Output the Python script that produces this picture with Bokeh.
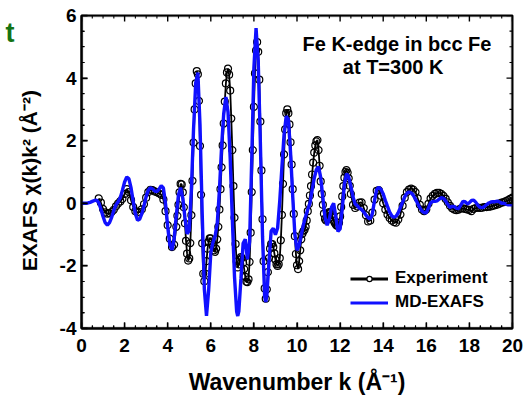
from bokeh.plotting import figure
from bokeh.models import (LinearAxis, SingleIntervalTicker, FixedTicker, Range1d,
                          Label, Legend, LegendItem, ColumnDataSource,
                          BoxAnnotation, Arrow)
from bokeh.embed import file_html
from bokeh.resources import INLINE

# ---------------- data ----------------
x_ticks = [0, 2, 4, 6, 8, 10, 12, 14, 16, 18, 20]
y_ticks = [-4, -2, 0, 2, 4, 6]
y_tick_labels = ["-4", "-2", "0", "2", "4", "6"]

# MD-EXAFS (blue line)
md_k = [
    0.0, 0.1, 0.2, 0.3, 0.4, 0.5, 0.6, 0.7, 0.8, 0.9,
    1.0, 1.1, 1.2, 1.3, 1.4, 1.5, 1.6, 1.7, 1.8, 1.9,
    2.0, 2.1, 2.2, 2.3, 2.4, 2.5, 2.6, 2.7, 2.8, 2.9,
    3.0, 3.1, 3.2, 3.3, 3.4, 3.5, 3.6, 3.7, 3.8, 3.9,
    4.0, 4.1, 4.2, 4.3, 4.4, 4.5, 4.6, 4.7, 4.8, 4.9,
    5.0, 5.1, 5.2, 5.3, 5.4, 5.5, 5.6, 5.7, 5.8, 5.9,
    6.0, 6.1, 6.2, 6.3, 6.4, 6.5, 6.6, 6.7, 6.8, 6.9,
    7.0, 7.1, 7.2, 7.25, 7.3, 7.4, 7.5, 7.6, 7.7, 7.8, 7.9,
    8.0, 8.1, 8.2, 8.3, 8.4, 8.5, 8.55, 8.6, 8.7, 8.8, 8.9,
    9.0, 9.1, 9.2, 9.3, 9.4, 9.5, 9.6, 9.7, 9.8, 9.9,
    10.0, 10.1, 10.2, 10.3, 10.4, 10.5, 10.6, 10.7, 10.8, 10.9,
    11.0, 11.1, 11.2, 11.3, 11.4, 11.5, 11.6, 11.7, 11.8, 11.9,
    12.0, 12.1, 12.2, 12.3, 12.4, 12.5, 12.6, 12.7, 12.8, 12.9,
    13.0, 13.1, 13.2, 13.3, 13.4, 13.5, 13.6, 13.7, 13.8, 13.9,
    14.0, 14.1, 14.2, 14.3, 14.4, 14.5, 14.6, 14.7, 14.8, 14.9,
    15.0, 15.1, 15.2, 15.3, 15.4, 15.5, 15.6, 15.7, 15.8, 15.9,
    16.0, 16.1, 16.2, 16.3, 16.4, 16.5, 16.6, 16.7, 16.8, 16.9,
    17.0, 17.1, 17.2, 17.3, 17.4, 17.5, 17.6, 17.7, 17.8, 17.9,
    18.0, 18.1, 18.2, 18.3, 18.4, 18.5, 18.6, 18.7, 18.8, 18.9,
    19.0, 19.1, 19.2, 19.3, 19.4, 19.5, 19.6, 19.7, 19.8, 19.9,
    20.0,
]
md_chi = [
    0.00, 0.00, 0.00, 0.01, 0.03, 0.06, 0.09, 0.10, 0.02, -0.18,
    -0.42, -0.62, -0.70, -0.62, -0.45, -0.22, -0.05, 0.05, 0.18, 0.42,
    0.68, 0.84, 0.78, 0.49, 0.06, -0.33, -0.54, -0.51, -0.33, -0.08,
    0.22, 0.42, 0.50, 0.46, 0.39, 0.37, 0.45, 0.56, 0.49, -0.02,
    -0.75, -1.33, -1.49, -1.12, -0.38, 0.27, 0.50, 0.16, -0.46, -0.97,
    -0.87, 0.47, 2.39, 3.84, 4.18, 2.48, -0.30, -2.74, -3.60, -2.77,
    -1.58, -1.25, -1.05, -0.63, 0.42, 1.80, 2.87, 3.40, 2.91, 1.44,
    -0.52, -2.34, -3.46, -3.60, -3.45, -2.40, -1.28, -1.15, -1.79, -1.22, 1.43,
    4.33, 5.60, 4.55, 1.93, -1.05, -2.98, -3.15, -2.95, -1.88, -0.89, -0.80,
    -1.00, -0.79, 0.08, 1.16, 2.20, 2.78, 2.68, 1.63, 0.24, -0.98,
    -1.50, -1.35, -1.00, -0.68, -0.42, -0.20, 0.00, 0.42, 0.80, 1.08,
    1.17, 0.82, 0.18, -0.44, -0.70, -0.50, -0.13, 0.00, -0.42, -0.90,
    -0.82, -0.17, 0.61, 0.95, 0.84, 0.54, 0.20, -0.02, -0.08, -0.16,
    -0.20, -0.28, -0.38, -0.46, -0.50, -0.32, 0.10, 0.45, 0.51, 0.44,
    0.30, 0.09, -0.10, -0.28, -0.40, -0.45, -0.41, -0.30, -0.13, 0.04,
    0.21, 0.32, 0.36, 0.33, 0.25, 0.13, -0.01, -0.14, -0.25, -0.30,
    -0.30, -0.15, 0.02, 0.06, 0.06, 0.08, 0.13, 0.18, 0.16, 0.07,
    -0.04, -0.13, -0.10, -0.10, -0.16, -0.17, -0.06, 0.06, 0.05, -0.02,
    0.02, 0.09, 0.10, 0.03, -0.07, -0.13, -0.14, -0.10, -0.04, 0.01,
    0.04, 0.05, 0.05, 0.07, 0.04, 0.00, 0.00, -0.03, -0.05, -0.05,
    -0.05,
]

# Experiment (black line with open circles)
exp_k = [
    0.8, 0.9, 1.0, 1.1, 1.2, 1.3, 1.4, 1.5, 1.6, 1.7,
    1.8, 1.9, 2.0, 2.1, 2.2, 2.3, 2.4, 2.5, 2.6, 2.7,
    2.8, 2.9, 3.0, 3.1, 3.2, 3.3, 3.4, 3.5, 3.6, 3.7,
    3.8, 3.9, 4.0, 4.1, 4.2, 4.3, 4.4,
    4.45, 4.50, 4.55, 4.60, 4.65, 4.70, 4.75, 4.80, 4.85, 4.90,
    4.95, 5.00, 5.05, 5.10, 5.15, 5.20, 5.25, 5.30, 5.35, 5.40,
    5.45, 5.50, 5.55, 5.60, 5.65, 5.70, 5.75, 5.80, 5.85, 5.90,
    5.95, 6.00, 6.05, 6.10, 6.15, 6.20, 6.25, 6.30, 6.35, 6.40,
    6.45, 6.50, 6.55, 6.60, 6.65, 6.70, 6.75, 6.80, 6.85, 6.90,
    6.95, 7.00, 7.05, 7.10, 7.15, 7.20, 7.25, 7.30, 7.35, 7.40,
    7.45, 7.50, 7.55, 7.60, 7.65, 7.70, 7.75, 7.80, 7.85, 7.90,
    7.95, 8.00, 8.05, 8.10, 8.15, 8.20, 8.25, 8.30, 8.35, 8.40,
    8.45, 8.50, 8.55, 8.60, 8.65, 8.70, 8.75, 8.80, 8.85, 8.90,
    8.95, 9.00, 9.05, 9.10, 9.15, 9.20, 9.25, 9.30, 9.35, 9.40,
    9.45, 9.50, 9.55, 9.60, 9.65, 9.70, 9.75, 9.80, 9.85, 9.90,
    9.95, 10.00, 10.05, 10.10, 10.15, 10.20, 10.25, 10.30, 10.35, 10.40,
    10.45, 10.50, 10.55, 10.60, 10.65, 10.70, 10.75, 10.80, 10.85, 10.90,
    10.95, 11.00, 11.05, 11.10, 11.15, 11.20, 11.25, 11.30, 11.35, 11.40,
    11.45, 11.50, 11.55, 11.60, 11.65, 11.70, 11.75, 11.80, 11.85, 11.90,
    11.95, 12.00, 12.05, 12.10, 12.15, 12.20, 12.25, 12.30, 12.35, 12.40,
    12.45, 12.50,
    12.6, 12.7, 12.8, 12.9, 13.0, 13.1, 13.2, 13.3, 13.4, 13.5,
    13.6, 13.7, 13.8, 13.9, 14.0, 14.1, 14.2, 14.3, 14.4, 14.5,
    14.6, 14.7, 14.8, 14.9, 15.0, 15.1, 15.2, 15.3, 15.4, 15.5,
    15.6, 15.7, 15.8, 15.9, 16.0, 16.1, 16.2, 16.3, 16.4, 16.5,
    16.6, 16.7, 16.8, 16.9, 17.0, 17.1, 17.2, 17.3, 17.4, 17.5,
    17.6, 17.7, 17.8, 17.9, 18.0, 18.1, 18.2, 18.3, 18.4, 18.5,
    18.6, 18.7, 18.8, 18.9, 19.0, 19.1, 19.2, 19.3, 19.4, 19.5,
    19.6, 19.7, 19.8, 19.9, 20.0,
]
exp_chi = [
    0.16, 0.02, -0.18, -0.29, -0.33, -0.32, -0.28, -0.21, -0.10, -0.01,
    0.06, 0.14, 0.30, 0.45, 0.36, 0.10, -0.12, -0.25, -0.29, -0.28,
    -0.19, -0.03, 0.18, 0.36, 0.43, 0.42, 0.38, 0.35, 0.32, 0.27,
    0.12, -0.25, -0.70, -1.13, -1.40, -1.32, -0.75,
    -0.40, -0.05, 0.35, 0.62, 0.60, 0.35, -0.13, -0.64, -1.20, -1.61,
    -1.83, -1.76, -1.27, -0.38, 0.72, 1.94, 3.00, 3.83, 4.22, 4.12,
    3.27, 1.83, 0.27, -1.28, -2.25, -2.49, -2.25, -1.85, -1.45, -1.22,
    -1.12, -1.12, -1.22, -1.38, -1.50, -1.55, -1.45, -1.15, -0.75, -0.20,
    0.45, 1.15, 1.85, 2.55, 3.25, 3.83, 4.18, 4.30, 4.11, 3.60,
    2.71, 1.70, 0.55, -0.46, -1.30, -1.86, -2.05, -1.95, -1.80, -1.72,
    -1.75, -1.90, -2.10, -2.35, -2.50, -2.52, -2.43, -1.87, -0.94, 0.36,
    1.70, 3.08, 4.15, 4.88, 5.15, 4.84, 3.95, 2.61, 1.05, -0.51,
    -1.85, -2.72, -3.05, -2.75, -2.20, -1.75, -1.45, -1.30, -1.30, -1.40,
    -1.60, -1.80, -1.95, -2.00, -1.95, -1.75, -1.18, -0.37, 0.62, 1.56,
    2.36, 2.88, 3.00, 2.88, 2.52, 1.95, 1.24, 0.45, -0.34, -1.05,
    -1.62, -1.98, -2.10, -1.85, -1.50, -1.15, -0.98, -0.90, -0.85, -0.75,
    -0.55, -0.25, -0.02, 0.25, 0.55, 0.92, 1.30, 1.62, 1.85, 1.98,
    2.02, 1.70, 1.20, 0.70, 0.30, -0.05, -0.33, -0.50, -0.55, -0.50,
    -0.35, -0.28, -0.30, -0.38, -0.45, -0.55, -0.62, -0.68, -0.72, -0.72,
    -0.62, -0.42, -0.12, 0.22, 0.55, 0.82, 1.00, 1.06, 0.98, 0.80,
    0.56, 0.30,
    -0.05, -0.15, -0.10, 0.02, 0.03, -0.15, -0.38, -0.58, -0.55, -0.30,
    0.12, 0.40, 0.42, 0.24, 0.00, -0.20, -0.36, -0.47, -0.55, -0.60,
    -0.62, -0.52, -0.36, -0.08, 0.18, 0.36, 0.44, 0.47, 0.44, 0.36,
    0.16, -0.05, -0.20, -0.25, -0.20, -0.02, 0.15, 0.24, 0.30, 0.33,
    0.33, 0.30, 0.24, 0.14, 0.03, -0.08, -0.16, -0.20, -0.22, -0.20,
    -0.17, -0.16, -0.18, -0.20, -0.21, -0.25, -0.18, -0.15, -0.14, -0.15,
    -0.14, -0.12, -0.12, -0.11, -0.10, -0.08, -0.06, -0.04, -0.01, 0.02,
    0.04, 0.07, 0.10, 0.14, 0.18,
]
assert len(md_k) == len(md_chi)
assert len(exp_k) == len(exp_chi)

title_lines = ["Fe K-edge in bcc Fe", "at T=300 K"]
series_names = ["Experiment", "MD-EXAFS"]
x_title = "Wavenumber k (Å\u207B\u00B9)"
y_title = "EXAFS \u03C7(k)k\u00B2 (Å\u207B\u00B2)\u00A0\u00A0\u00A0"
corner_text = "t"

# ---------------- styling ----------------
FONT = "Liberation Sans"
BLUE = "#1010ff"
X0, X1, Y0, Y1 = 0, 20, -4, 6
FW, FH = 431, 313

p = figure(frame_width=FW, frame_height=FH,
           x_range=Range1d(X0, X1), y_range=Range1d(Y0, Y1),
           output_backend="svg", toolbar_location=None,
           min_border_left=81, min_border_top=15,
           min_border_right=14, min_border_bottom=10)
p.xgrid.grid_line_color = None
p.ygrid.grid_line_color = None
p.outline_line_color = "black"
p.outline_line_width = 2

for ax in (p.xaxis[0], p.yaxis[0]):
    ax.ticker = SingleIntervalTicker(interval=2, num_minor_ticks=4)
    ax.major_tick_in = 6
    ax.major_tick_out = 0
    ax.minor_tick_in = 3
    ax.minor_tick_out = 0
    ax.axis_line_color = "black"
    ax.axis_line_width = 2
    ax.major_tick_line_color = "black"
    ax.minor_tick_line_color = "black"
    ax.major_tick_line_width = 1.3
    ax.minor_tick_line_width = 1.1
    ax.major_label_text_font = FONT
    ax.major_label_text_font_style = "bold"
    ax.major_label_text_color = "black"
    ax.major_label_text_font_size = "19px"
    ax.axis_label_text_font = FONT
    ax.axis_label_text_font_style = "bold"
    ax.axis_label_text_color = "black"

xb = p.xaxis[0]
yl = p.yaxis[0]
xb.major_label_standoff = 10
yl.major_label_standoff = 5
yl.major_label_overrides = {t: s for t, s in zip(y_ticks, y_tick_labels)}
xb.axis_label = x_title
yl.axis_label = y_title
xb.axis_label_text_font_size = "23px"
yl.axis_label_text_font_size = "21px"
xb.axis_label_standoff = 14
yl.axis_label_standoff = 16

# far-left helper axis that only carries the cut-off green "t"
t_axis = LinearAxis(ticker=FixedTicker(ticks=[5.45], minor_ticks=[]))
t_axis.major_label_overrides = {5.45: corner_text}
t_axis.axis_line_color = None
t_axis.major_tick_line_color = None
t_axis.minor_tick_line_color = None
t_axis.major_tick_out = 0
t_axis.major_tick_in = 0
t_axis.major_label_standoff = 0
t_axis.major_label_text_font = FONT
t_axis.major_label_text_font_style = "bold"
t_axis.major_label_text_font_size = "27px"
t_axis.major_label_text_color = "#137313"
p.add_layout(t_axis, "left")

# frame box (annotation) and inward ticks on all four edges (arrow annotations
# without heads)
p.add_layout(BoxAnnotation(left=X0, right=X1, bottom=Y0, top=Y1,
                           fill_color=None, fill_alpha=0,
                           line_color="black", line_width=3.5, level="overlay"))

py = (Y1 - Y0) / FH   # data units per pixel (y)
px = (X1 - X0) / FW   # data units per pixel (x)
x_minor = [v / 2 for v in range(2 * X0, 2 * X1 + 1) if v % 4 != 0]
y_minor = [v / 2 for v in range(2 * Y0, 2 * Y1 + 1) if v % 4 != 0]


def tick_source(positions, length_px, vertical):
    xs0, ys0, xs1, ys1 = [], [], [], []
    for t in positions:
        if vertical:   # bottom and top edges
            xs0 += [t, t]
            xs1 += [t, t]
            ys0 += [Y0, Y1]
            ys1 += [Y0 + length_px * py, Y1 - length_px * py]
        else:          # left and right edges
            ys0 += [t, t]
            ys1 += [t, t]
            xs0 += [X0, X1]
            xs1 += [X0 + length_px * px, X1 - length_px * px]
    return ColumnDataSource(dict(x0=xs0, y0=ys0, x1=xs1, y1=ys1))


for pos, ln, vert, lw in ((x_ticks, 6, True, 1.4), (x_minor, 3, True, 1.1),
                          (y_ticks, 6, False, 1.4), (y_minor, 3, False, 1.1)):
    p.add_layout(Arrow(x_start="x0", y_start="y0", x_end="x1", y_end="y1",
                       source=tick_source(pos, ln, vert), start=None, end=None,
                       line_color="black", line_width=lw, level="overlay"))

# ---------------- data renderers ----------------
src_exp = ColumnDataSource(dict(k=exp_k, chi=exp_chi))
p.line("k", "chi", source=src_exp, line_color="black", line_width=1.8)
p.scatter("k", "chi", source=src_exp, marker="circle", size=7,
          line_color="black", line_width=1.2, fill_color=None)
p.line(md_k, md_chi, line_color=BLUE, line_width=3.4)

# legend-only glyphs (placed outside the visible range)
off_x = [-6, -5]
off_y = [-9, -9]
leg_exp_line = p.line(x=off_x, y=off_y, line_color="black", line_width=3)
leg_exp_pt = p.scatter(x=off_x, y=off_y, marker="circle", line_color="black",
                       line_width=1.2, fill_color="white")
leg_md = p.line(x=off_x, y=off_y, line_color=BLUE, line_width=3)

legend = Legend(items=[
    LegendItem(label=series_names[0], renderers=[leg_exp_line, leg_exp_pt]),
    LegendItem(label=series_names[1], renderers=[leg_md]),
])
legend.location = (269, 16)
legend.padding = 0
legend.margin = 0
legend.spacing = 4
legend.glyph_width = 38
legend.glyph_height = 13
legend.label_standoff = 7
legend.label_text_font = FONT
legend.label_text_font_style = "bold"
legend.label_text_font_size = "17px"
legend.label_text_color = "black"
legend.border_line_color = None
legend.background_fill_alpha = 0
p.add_layout(legend)

# ---------------- annotation texts ----------------
p.add_layout(Label(x=14.64, y=5.10, text=title_lines[0], text_align="center",
                   text_baseline="middle", text_font=FONT, text_color="black",
                   text_font_style="bold", text_font_size="20px"))
p.add_layout(Label(x=14.46, y=4.34, text=title_lines[1], text_align="center",
                   text_baseline="middle", text_font=FONT, text_color="black",
                   text_font_style="bold", text_font_size="20px"))

open("out.html", "w").write(file_html(p, INLINE))
